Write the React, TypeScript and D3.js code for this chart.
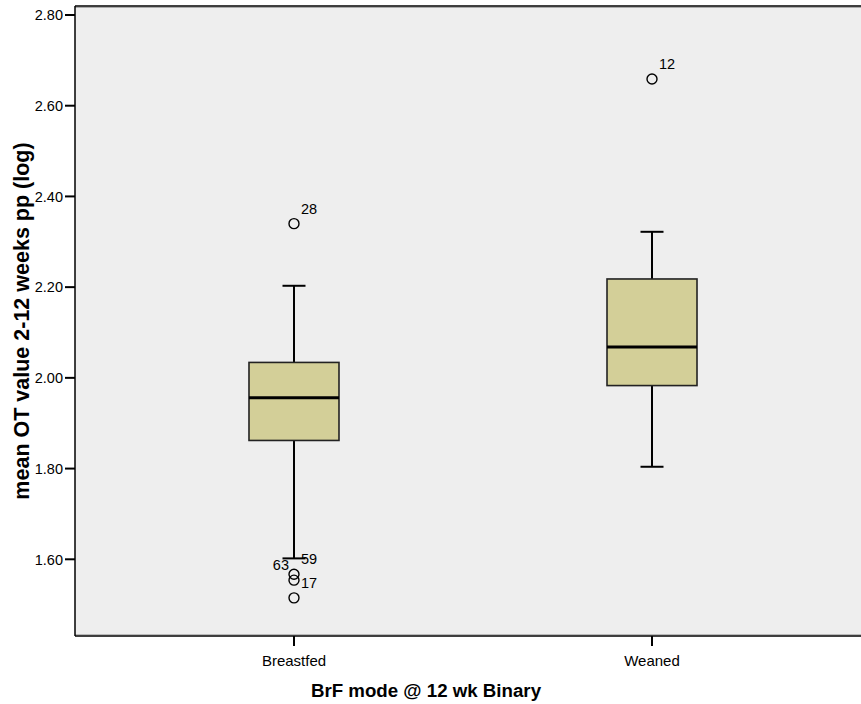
import React from "react";
import * as d3 from "d3";

const categories = ["Breastfed", "Weaned"];
const whiskerLow = [1.602, 1.804];
const q1 = [1.862, 1.983];
const median = [1.956, 2.068];
const q3 = [2.034, 2.218];
const whiskerHigh = [2.203, 2.322];

const outlierCat = ["Breastfed", "Breastfed", "Breastfed", "Breastfed", "Weaned"];
const outlierValue = [2.34, 1.567, 1.554, 1.515, 2.659];
const outlierLabel = ["28", "59", "63", "17", "12"];
const outlierSide = ["right", "right", "left", "right", "right"];

const yTicks = [1.6, 1.8, 2.0, 2.2, 2.4, 2.6, 2.8];

const W = 861;
const H = 704;
const left = 75;
const right = 871;
const top = 6;
const bottom = 636;

export default function App() {
  const y = d3.scaleLinear().domain([1.4309, 2.8198]).range([bottom, top]);
  const x = d3.scalePoint<string>().domain(categories).range([left, right]).padding(0.6117);
  const boxW = 90;
  const capW = 23;
  const font = "'Liberation Sans', Arial, sans-serif";

  return (
    <svg width={W} height={H} style={{ position: "absolute", left: 0, top: 0, background: "#fff" }} fontFamily={font}>
      <rect x={left} y={top} width={right - left} height={bottom - top} fill="#eeeeee" stroke="none" />
      {/* frame */}
      <line x1={left} x2={right} y1={top} y2={top} stroke="#000" strokeWidth={1.5} />
      <line x1={left} x2={right} y1={top + 1.5} y2={top + 1.5} stroke="#999" strokeWidth={0.8} />
      <line x1={left} x2={right} y1={bottom} y2={bottom} stroke="#000" strokeWidth={1.5} />
      <line x1={left} x2={right} y1={bottom - 1.5} y2={bottom - 1.5} stroke="#aaa" strokeWidth={0.8} />
      <line x1={left} x2={left} y1={top} y2={bottom} stroke="#000" strokeWidth={1.5} />

      {/* y ticks */}
      {yTicks.map((t) => (
        <g key={t}>
          <line x1={left - 10} x2={left} y1={y(t)} y2={y(t)} stroke="#000" strokeWidth={2} />
          <text x={left - 12} y={y(t)} dy="0.36em" textAnchor="end" fontSize={14.5} fill="#000">
            {d3.format(".2f")(t)}
          </text>
        </g>
      ))}

      {/* x ticks */}
      {categories.map((c) => (
        <g key={c}>
          <line x1={x(c)} x2={x(c)} y1={bottom} y2={bottom + 10} stroke="#000" strokeWidth={2} />
          <text x={x(c)} y={bottom + 30} textAnchor="middle" fontSize={15} fill="#000">
            {c}
          </text>
        </g>
      ))}

      {/* boxes */}
      {categories.map((c, i) => {
        const cx = x(c)!;
        return (
          <g key={c}>
            <line x1={cx} x2={cx} y1={y(whiskerLow[i])} y2={y(q1[i])} stroke="#000" strokeWidth={2} />
            <line x1={cx} x2={cx} y1={y(q3[i])} y2={y(whiskerHigh[i])} stroke="#000" strokeWidth={2} />
            <line x1={cx - capW / 2} x2={cx + capW / 2} y1={y(whiskerLow[i])} y2={y(whiskerLow[i])} stroke="#000" strokeWidth={2} />
            <line x1={cx - capW / 2} x2={cx + capW / 2} y1={y(whiskerHigh[i])} y2={y(whiskerHigh[i])} stroke="#000" strokeWidth={2} />
            <rect
              x={cx - boxW / 2}
              y={y(q3[i])}
              width={boxW}
              height={y(q1[i]) - y(q3[i])}
              fill="#d3cf98"
              stroke="#222"
              strokeWidth={1.6}
            />
            <line x1={cx - boxW / 2} x2={cx + boxW / 2} y1={y(median[i])} y2={y(median[i])} stroke="#000" strokeWidth={3} />
          </g>
        );
      })}

      {/* outliers */}
      {outlierValue.map((v, i) => {
        const cx = x(outlierCat[i])!;
        const cy = y(v);
        const isLeft = outlierSide[i] === "left";
        return (
          <g key={i}>
            <circle cx={cx} cy={cy} r={5} fill="none" stroke="#000" strokeWidth={1.4} />
            <text
              x={isLeft ? cx - 5 : cx + 7}
              y={cy - 10}
              textAnchor={isLeft ? "end" : "start"}
              fontSize={14.5}
              fill="#000"
            >
              {outlierLabel[i]}
            </text>
          </g>
        );
      })}

      {/* axis titles */}
      <text x={426} y={697} textAnchor="middle" fontSize={18.7} fontWeight="bold" fill="#000">
        BrF mode @ 12 wk Binary
      </text>
      <text
        transform={`translate(29, ${(top + bottom) / 2}) rotate(-90)`}
        textAnchor="middle"
        fontSize={21.5}
        fontWeight="bold"
        fill="#000"
      >
        mean OT value 2-12 weeks pp (log)
      </text>
    </svg>
  );
}
